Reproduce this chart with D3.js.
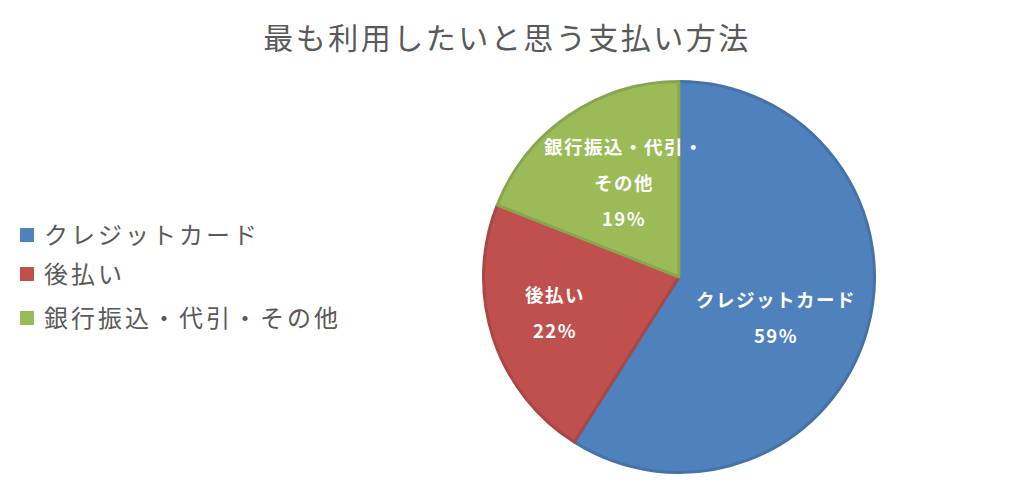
<!DOCTYPE html>
<html><head><meta charset="utf-8">
<script src="https://cdn.jsdelivr.net/npm/d3@7"></script>
<style>body{margin:0;background:#fff;} text{font-family:"Noto Sans CJK JP","Noto Sans",sans-serif;}</style>
</head><body>
<svg id="c" width="1010" height="490"></svg>
<script>
const title = "最も利用したいと思う支払い方法";
const categories = ["クレジットカード", "後払い", "銀行振込・代引・その他"];
const values = [59, 22, 19];
const labelLines = [["クレジットカード"], ["後払い"], ["銀行振込・代引・", "その他"]];
const colors = ["#4F81BD", "#C0504D", "#9BBB59"];

const svg = d3.select("#c");
svg.append("rect").attr("width",1010).attr("height",490).attr("fill","#fff");

svg.append("text").attr("x",507).attr("y",49).attr("text-anchor","middle")
  .attr("font-size",30).attr("letter-spacing",2.5).attr("fill","#595959").text(title);

const cx = 679, cy = 277, r = 197;
const pie = d3.pie().sort(null).value(d=>d);
const arcs = pie(values);
const arc = d3.arc().innerRadius(0).outerRadius(r - 1.5);
const g = svg.append("g").attr("transform",`translate(${cx},${cy})`);
g.selectAll("path").data(arcs).join("path")
  .attr("d",arc).attr("fill",(d,i)=>colors[i])
  .attr("stroke",(d,i)=>d3.color(colors[i]).darker(0.35))
  .attr("stroke-width",3).attr("stroke-linejoin","round");

// labels
const labelPos = [[97, 24], [-124, 19], [-55, -129]];
arcs.forEach((a,i)=>{
  const lines = labelLines[i].concat([values[i]+"%"]);
  const [lx, ly] = labelPos[i];
  const t = g.append("text").attr("text-anchor","middle").attr("fill","#fff")
    .attr("font-weight","bold").attr("font-size",18.5).attr("letter-spacing",1.5);
  lines.forEach((ln,j)=>{
    t.append("tspan").attr("x",lx).attr("y",ly + j*36 + 6).text(ln);
  });
});

// legend
const lg = svg.append("g");
const ly0 = [235, 274, 318];
categories.forEach((c,i)=>{
  lg.append("rect").attr("x",20).attr("y",ly0[i]-7).attr("width",14).attr("height",14).attr("fill",colors[i]);
  lg.append("text").attr("x",44).attr("y",ly0[i]+9).attr("font-size",24).attr("letter-spacing",3)
    .attr("fill","#595959").text(c);
});
</script>
</body></html>
